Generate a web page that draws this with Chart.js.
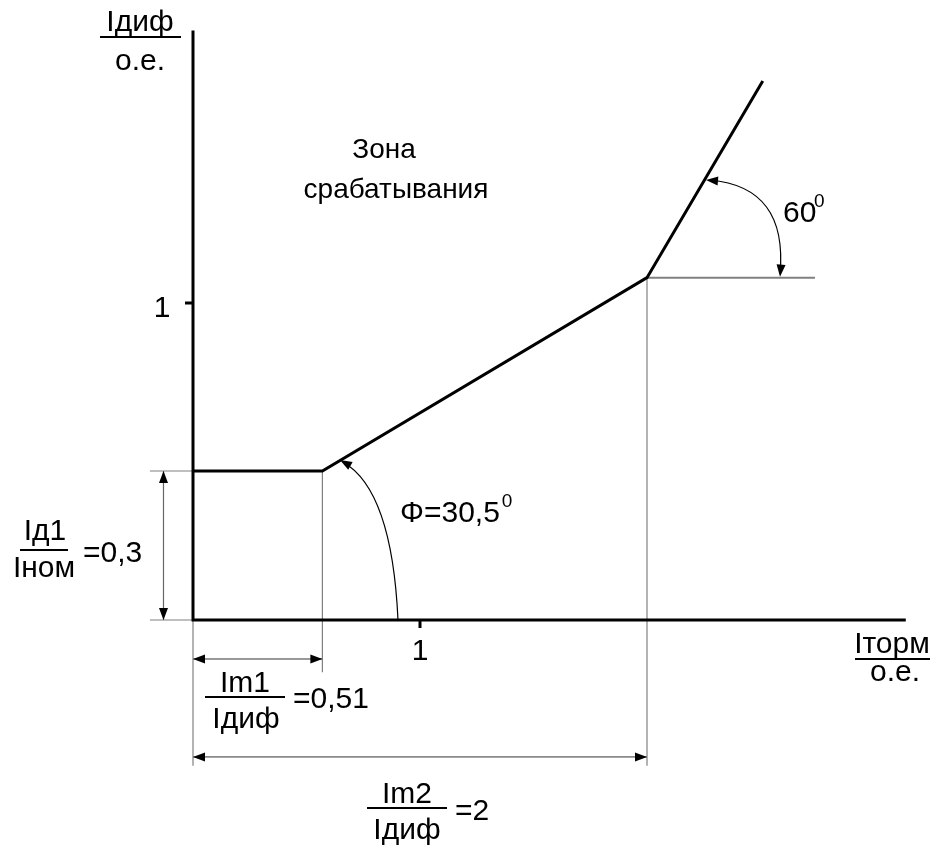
<!DOCTYPE html>
<html>
<head>
<meta charset="utf-8">
<script src="https://cdn.jsdelivr.net/npm/chart.js"></script>
<style>
    body { margin: 0; background: #fff; }
    #wrap { width: 935px; height: 847px; }
</style>
</head>
<body>
<div id="wrap"><canvas id="diffChart" width="935" height="847"></canvas></div>
<script>
// тормозная характеристика (о.е.)
var charX = [0, 0.57, 2.0, 2.51];
var charY = [0.47, 0.47, 1.08, 1.70];

// оси
var axisEndX = 3.14;
var axisEndY = 1.86;
var xTicks = [1];
var yTicks = [1];
var xTickLabels = ["1"];
var yTickLabels = ["1"];

function seg(x1, y1, x2, y2) {
    return [{x: x1, y: y1}, {x: x2, y: y2}];
}

function lineSet(data, color, width) {
    return {
        data: data,
        showLine: true,
        borderColor: color,
        borderWidth: width,
        pointRadius: 0,
        fill: false
    };
}

var charPoints = charX.map(function (x, i) { return {x: x, y: charY[i]}; });

var datasets = [
    lineSet(charPoints, "#000", 3),
    lineSet([{x: 0, y: axisEndY}, {x: 0, y: 0}, {x: axisEndX, y: 0}], "#000", 3),
    lineSet(seg(-0.19, charY[0], 0, charY[0]), "#808080", 1.2),
    lineSet(seg(-0.19, 0, 0, 0), "#808080", 1.2),
    lineSet(seg(charX[1], charY[1], charX[1], -0.165), "#808080", 1.2),
    lineSet(seg(0, 0, 0, -0.46), "#808080", 1.2),
    lineSet(seg(charX[2], charY[2], charX[2], -0.46), "#808080", 1.2),
    lineSet(seg(charX[2], charY[2], 2.74, charY[2]), "#808080", 2),
    lineSet(seg(-0.13, 0, -0.13, charY[0]), "#666", 1.2),
    lineSet(seg(0, -0.123, charX[1], -0.123), "#333", 1),
    lineSet(seg(0, -0.432, charX[2], -0.432), "#333", 1)
];

function arrowHead(ctx, tx, ty, dx, dy) {
    var l = Math.sqrt(dx * dx + dy * dy);
    dx /= l; dy /= l;
    var len = 12, half = 4.5;
    var bx = tx - dx * len, by = ty - dy * len;
    ctx.beginPath();
    ctx.moveTo(tx, ty);
    ctx.lineTo(bx - dy * half, by + dx * half);
    ctx.lineTo(bx + dy * half, by - dx * half);
    ctx.closePath();
    ctx.fill();
}

var annotations = {
    id: "annotations",
    afterDatasetsDraw: function (chart) {
        var ctx = chart.ctx;
        var sx = chart.scales.x, sy = chart.scales.y;
        var px = function (v) { return sx.getPixelForValue(v); };
        var py = function (v) { return sy.getPixelForValue(v); };
        ctx.save();
        ctx.fillStyle = "#000";
        ctx.strokeStyle = "#000";

        // деления
        ctx.lineWidth = 3;
        xTicks.forEach(function (t) {
            ctx.beginPath();
            ctx.moveTo(px(t), py(0));
            ctx.lineTo(px(t), py(0) + 8);
            ctx.stroke();
        });
        yTicks.forEach(function (t) {
            ctx.beginPath();
            ctx.moveTo(px(0) - 8, py(t));
            ctx.lineTo(px(0), py(t));
            ctx.stroke();
        });

        // стрелки размерных линий
        arrowHead(ctx, px(-0.13), py(charY[0]), 0, -1);
        arrowHead(ctx, px(-0.13), py(0), 0, 1);
        arrowHead(ctx, px(0), py(-0.123), -1, 0);
        arrowHead(ctx, px(charX[1]), py(-0.123), 1, 0);
        arrowHead(ctx, px(0), py(-0.432), -1, 0);
        arrowHead(ctx, px(charX[2]), py(-0.432), 1, 0);

        // дуги углов
        ctx.lineWidth = 1.2;
        ctx.beginPath();
        ctx.moveTo(398, py(0));
        ctx.quadraticCurveTo(392, 490, 343, 462);
        ctx.stroke();
        arrowHead(ctx, 340, 460, -51, -29);

        ctx.beginPath();
        ctx.moveTo(710, 180);
        ctx.quadraticCurveTo(788, 187, 780, 274);
        ctx.stroke();
        arrowHead(ctx, 706, 180, -81, -7);
        arrowHead(ctx, 780, py(charY[2]) - 1, -8, 89);

        // подписи
        var font = '30px "Liberation Sans", Arial, sans-serif';
        var zoneFont = '28px "Liberation Sans", Arial, sans-serif';
        var small = '19px "Liberation Sans", Arial, sans-serif';
        ctx.font = font;
        ctx.textBaseline = "alphabetic";

        function txt(s, x, y, align) {
            ctx.textAlign = align || "center";
            ctx.fillText(s, x, y);
        }
        function hline(x1, x2, y, w) {
            ctx.lineWidth = w || 2;
            ctx.beginPath();
            ctx.moveTo(x1, y);
            ctx.lineTo(x2, y);
            ctx.stroke();
        }

        xTicks.forEach(function (t, i) { txt(xTickLabels[i], px(t), py(0) + 40); });
        yTicks.forEach(function (t, i) { txt(yTickLabels[i], px(0) - 31, py(t) + 14); });

        txt("Iдиф", 140, 31);
        hline(100, 181, 37);
        txt("о.е.", 140, 70);

        txt("Iторм", 892, 653);
        hline(855, 930, 659);
        txt("о.е.", 895, 681);

        ctx.font = zoneFont;
        txt("Зона", 384, 158);
        txt("срабатывания", 396, 198);
        ctx.font = font;

        txt("60", 783, 222, "left");
        ctx.font = small;
        txt("0", 814, 207, "left");
        ctx.font = font;

        txt("Φ=30,5", 400, 522, "left");
        var w = ctx.measureText("Φ=30,5").width;
        ctx.font = small;
        txt("0", 400 + w + 2, 507, "left");
        ctx.font = font;

        txt("Iд1", 45, 540);
        hline(20, 68, 550);
        txt("Iном", 44, 577);
        txt("=0,3", 83, 562, "left");

        txt("Im1", 245, 692);
        hline(205, 285, 697);
        txt("Iдиф", 246, 728);
        txt("=0,51", 293, 708, "left");

        txt("Im2", 407, 803);
        hline(367, 447, 808);
        txt("Iдиф", 407, 839);
        txt("=2", 455, 820, "left");

        ctx.restore();
    }
};

var ctx = document.getElementById("diffChart").getContext("2d");
new Chart(ctx, {
    type: "scatter",
    data: {datasets: datasets},
    options: {
        responsive: false,
        animation: false,
        layout: {padding: 0},
        plugins: {legend: {display: false}, tooltip: {enabled: false}},
        scales: {
            x: {type: "linear", display: false, min: -193 / 227, max: (935 - 193) / 227},
            y: {type: "linear", display: false, min: -(847 - 620) / 317, max: 620 / 317}
        }
    },
    plugins: [annotations]
});
</script>
</body>
</html>
